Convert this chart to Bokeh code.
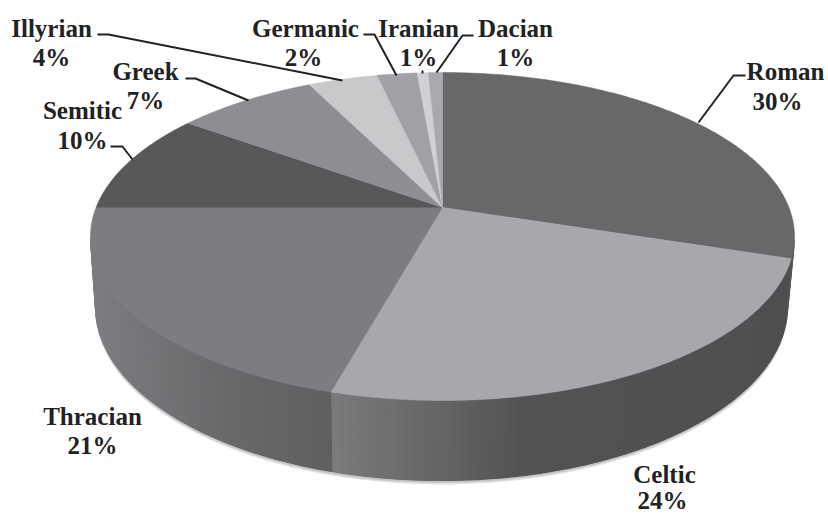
import numpy as np
from bokeh.plotting import figure
from bokeh.models import ColumnDataSource
from bokeh.core.properties import value
from bokeh.embed import file_html
from bokeh.resources import INLINE

# data
names = ["Roman", "Celtic", "Thracian", "Semitic", "Greek", "Illyrian", "Germanic", "Iranian", "Dacian"]
shares = [30, 24, 21, 10, 7, 4, 2, 1, 1]  # printed labels
slice_sizes = [30, 24.25, 20.75, 10.08, 7.68, 3.74, 2.15, 0.6, 0.75]  # sizes as drawn in the picture
top_colors = ["#68686a", "#a7a8ab", "#7c7d80", "#58585a", "#8d8e91", "#c8c9cb", "#a0a1a4", "#d0d1d3", "#a8a9ac"]

# style / layout (page pixels)
side_stops = {
    "Roman": [(790, (0x55, 0x55, 0x57)), (800, (0x55, 0x55, 0x57))],
    "Celtic": [(790, (0x4f, 0x4f, 0x51)), (520, (0x53, 0x53, 0x55)), (430, (0x66, 0x66, 0x68)), (330, (0x7a, 0x7b, 0x7d))],
    "Thracian": [(330, (0x60, 0x60, 0x62)), (230, (0x68, 0x68, 0x6a)), (95, (0x7c, 0x7d, 0x80))],
}
label_xy = {
    "Illyrian": (51, 28, 51, 57), "Germanic": (305, 28, 303, 57), "Iranian": (418, 28, 418, 57),
    "Dacian": (515, 28, 515, 57), "Greek": (145, 71, 145, 100), "Semitic": (82, 110, 82, 140),
    "Roman": (785, 71, 777, 101), "Thracian": (92, 416, 92, 445), "Celtic": (664, 474, 662, 500),
}
leaders = [
    [(97, 34), (108, 34), (342, 80)],
    [(363, 34), (374, 34), (396, 75)],
    [(422, 70), (422, 73)],
    [(473, 35), (462, 35), (436, 72)],
    [(185, 78), (195, 78), (248, 100)],
    [(110, 146), (122, 146), (132, 159)],
    [(745, 75), (733, 75), (698, 122)],
]
AX, AY = 442, 207
CX, CY, RX, RY = 442, 236, 352, 164
BX, BY, BRX, BRY = 441, 306, 346, 174
DIRY = 159


def rim(theta):
    dx, dy = np.sin(theta) * RX, -np.cos(theta) * DIRY
    ox, oy = (AX - CX) / RX, (AY - CY) / RY
    ux, uy = dx / RX, dy / RY
    a = ux**2 + uy**2
    b = 2 * (ox * ux + oy * uy)
    c = ox**2 + oy**2 - 1
    t = (-b + np.sqrt(b**2 - 4 * a * c)) / (2 * a)
    return AX + t * dx, AY + t * dy


def lerp_color(stops, x):
    xs = [s[0] for s in stops][::-1]
    rgb = [np.interp(x, xs, [s[1][k] for s in stops][::-1]) for k in range(3)]
    return "#%02x%02x%02x" % tuple(int(round(v)) for v in rgb)


p = figure(width=828, height=514, x_range=(0, 828), y_range=(514, 0),
           toolbar_location=None, output_backend="svg", min_border=0)
p.axis.visible = False
p.grid.visible = False
p.outline_line_color = None

# shadow under the disc
phi = np.linspace(0, np.pi, 200)
for off, col in [(4, "#e2e3e4"), (2.5, "#c4c5c7")]:
    p.patch(BX + BRX * np.cos(phi), BY + off + BRY * np.sin(phi), fill_color=col, line_color=None)

edges = np.cumsum([0] + slice_sizes) / sum(slice_sizes) * 2 * np.pi

# side wall
xs, ys, cols = [], [], []
for i, n in enumerate(names):
    if n not in side_stops:
        continue
    th = np.linspace(edges[i], edges[i + 1], 70)
    rx, ry = rim(th)
    ph = np.arctan2((ry - CY) / RY, (rx - CX) / RX)
    keep = ph >= 0
    rx, ry, ph = rx[keep], ry[keep], ph[keep]
    bx, by = BX + BRX * np.cos(ph), BY + BRY * np.sin(ph)
    base = lerp_color(side_stops[n], (rx[0] + rx[-1]) / 2)
    p.patch(list(rx) + list(bx[::-1]), list(ry) + list(by[::-1]), fill_color=base, line_color=None)
    for j in range(len(rx) - 1):
        xs.append([rx[j], rx[j + 1], bx[j + 1], bx[j]])
        ys.append([ry[j], ry[j + 1], by[j + 1], by[j]])
        cols.append(lerp_color(side_stops[n], (rx[j] + rx[j + 1]) / 2))
p.patches(xs, ys, fill_color=cols, line_color=cols, line_width=1.2)

# top face
xs, ys = [], []
for i in range(len(names)):
    th = np.linspace(edges[i], edges[i + 1], max(8, int(slice_sizes[i] * 6)))
    rx, ry = rim(th)
    xs.append([AX] + list(rx))
    ys.append([AY] + list(ry))
p.patches(xs, ys, fill_color=top_colors, line_color=top_colors, line_width=0.5)

# leaders
p.multi_line([[q[0] for q in l] for l in leaders], [[q[1] for q in l] for l in leaders],
             line_color="#222222", line_width=2)

# labels
src = ColumnDataSource(dict(
    x=[label_xy[n][0] for n in names], y=[label_xy[n][1] for n in names], t=names,
    x2=[label_xy[n][2] for n in names], y2=[label_xy[n][3] for n in names], t2=[f"{s}%" for s in shares]))
for xk, yk, tk in (("x", "y", "t"), ("x2", "y2", "t2")):
    p.text(xk, yk, text=tk, source=src, text_align="center", text_baseline="middle",
           text_font=value("Liberation Serif"), text_font_style="bold", text_font_size="25px",
           text_color="#222222")

open("out.html", "w").write(file_html(p, INLINE))
